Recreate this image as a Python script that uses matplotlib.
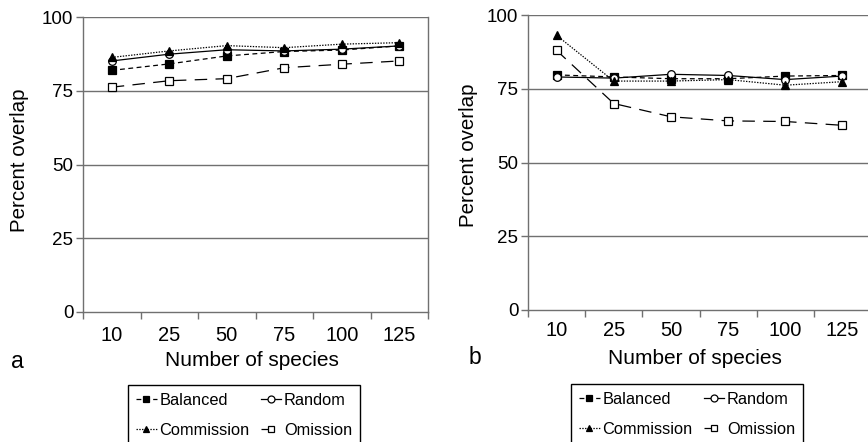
import matplotlib
matplotlib.use("Agg")
import matplotlib.pyplot as plt
from matplotlib.lines import Line2D

plt.rcParams["font.family"] = ["Liberation Sans", "DejaVu Sans"]
plt.rcParams["lines.scale_dashes"] = False

species = ["10", "25", "50", "75", "100", "125"]

# panel a
a_balanced = [81.9, 84.1, 86.8, 88.3, 88.8, 90.2]
a_random = [85.1, 87.4, 88.9, 88.5, 89.1, 90.2]
a_commission = [86.3, 88.5, 90.3, 89.6, 90.8, 91.3]
a_omission = [76.2, 78.4, 79.1, 82.8, 84.0, 85.1]

# panel b
b_balanced = [79.7, 79.0, 78.4, 78.4, 79.3, 79.5]
b_random = [79.0, 78.6, 79.9, 79.5, 78.1, 79.3]
b_commission = [93.1, 77.6, 77.6, 78.1, 76.2, 77.4]
b_omission = [88.0, 70.0, 65.5, 64.1, 63.9, 62.6]

yticks = [0, 25, 50, 75, 100]

GRAY = "#707070"
W, H = 868.0, 442.0
STYLES = {
    "Balanced": dict(marker="s", mfc="black", dashes=(3.5, 2.5)),
    "Random": dict(marker="o", mfc="white", linestyle="-"),
    "Commission": dict(marker="^", mfc="black", dashes=(1, 1)),
    "Omission": dict(marker="s", mfc="white", dashes=(9, 6)),
}


def px(x, y):
    # pixel position (from top-left) -> figure fraction
    return x / W, 1 - y / H


def draw_panel(fig, ax, series, letter, pos):
    x = list(range(len(species)))
    for name, vals in series.items():
        ax.plot(x, vals, color="black", lw=0.9, ms=5.5, mec="black",
                mew=0.9, **STYLES[name])
    ax.set_ylim(0, 100)
    ax.set_xlim(-0.5, len(species) - 0.5)
    ax.set_yticks(yticks)
    ax.set_yticklabels([str(t) for t in yticks], fontsize=13.5)
    ax.set_xticks(x)
    ax.set_xticklabels(species, fontsize=14.5)
    ax.set_xticks([i - 0.5 for i in range(len(species) + 1)], minor=True)
    ax.tick_params(axis="x", which="major", length=0, pad=pos["xpad"])
    ax.tick_params(axis="x", which="minor", length=5, color=GRAY, width=1)
    ax.tick_params(axis="y", length=5, color=GRAY, width=1, pad=2)
    for y in yticks[1:]:
        ax.axhline(y, color=GRAY, lw=1, zorder=0)
    for side in ["left", "right", "bottom"]:
        ax.spines[side].set_color(GRAY)
        ax.spines[side].set_linewidth(1)
    ax.spines["top"].set_visible(False)

    fig.text(*px(*pos["ylabel"]), "Percent overlap", fontsize=14.8,
             rotation=90, ha="center", va="center")
    fig.text(*px(*pos["xlabel"]), "Number of species", fontsize=15,
             ha="center", va="center")
    fig.text(*px(*pos["letter"]), letter, fontsize=16.5,
             ha="left", va="center")

    handles = []
    for name in ["Balanced", "Commission", "Random", "Omission"]:
        handles.append(Line2D([], [], color="black", lw=0.9, ms=5,
                              mec="black", mew=0.9, label=name,
                              **STYLES[name]))
    fig.legend(handles=handles, ncol=2, loc="upper left",
               bbox_to_anchor=px(*pos["legend"]), borderaxespad=0,
               fontsize=11.8, frameon=True, fancybox=False,
               edgecolor="black", framealpha=1, handlelength=1.25,
               handletextpad=0.15, columnspacing=0.7, labelspacing=0.9,
               borderpad=0.5)


fig = plt.figure(figsize=(8.68, 4.42), dpi=100)
ax_a = fig.add_axes([83 / W, 1 - 312 / H, (428 - 83) / W, (312 - 17) / H])
ax_b = fig.add_axes([528 / W, 1 - 310 / H, (871 - 528) / W, (310 - 15) / H])

draw_panel(fig, ax_a,
           {"Omission": a_omission, "Balanced": a_balanced,
            "Random": a_random, "Commission": a_commission},
           "a", dict(xpad=10, ylabel=(20, 160), xlabel=(252, 361),
                     letter=(11, 362), legend=(128, 385)))
draw_panel(fig, ax_b,
           {"Omission": b_omission, "Balanced": b_balanced,
            "Random": b_random, "Commission": b_commission},
           "b", dict(xpad=8, ylabel=(469, 155), xlabel=(695, 358),
                     letter=(469, 357), legend=(571, 384)))

fig.savefig("out.png", dpi=100)
plt.close(fig)
